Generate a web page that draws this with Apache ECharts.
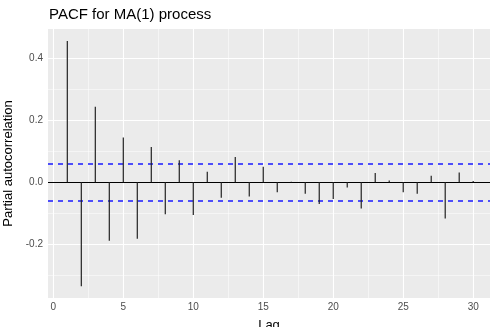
<!DOCTYPE html>
<html>
<head>
<meta charset="utf-8">
<script src="https://cdn.jsdelivr.net/npm/echarts@6/dist/echarts.min.js"></script>
<style>
  html, body { margin: 0; padding: 0; background: #fff; }
  #chart { width: 490px; height: 327px; }
</style>
</head>
<body>
<div id="chart"></div>
<script>
// PACF values
const lags = [1, 2, 3, 4, 5, 6, 7, 8, 9, 10, 11, 12, 13, 14, 15,
              16, 17, 18, 19, 20, 21, 22, 23, 24, 25, 26, 27, 28, 29, 30];
const pacf = [0.456, -0.335, 0.244, -0.188, 0.145, -0.182, 0.114, -0.103, 0.071, -0.105,
              0.034, -0.050, 0.082, -0.046, 0.050, -0.032, 0.002, -0.037, -0.070, -0.054,
              -0.017, -0.084, 0.030, 0.006, -0.032, -0.037, 0.021, -0.117, 0.032, 0.004];
const ciBound = 0.062;
const xTicks = [0, 5, 10, 15, 20, 25, 30];
const xMinor = [2.5, 7.5, 12.5, 17.5, 22.5, 27.5];
const yTicks = [-0.2, 0, 0.2, 0.4];
const yMinor = [-0.3, -0.1, 0.1, 0.3];

const chart = echarts.init(document.getElementById('chart'));

function gridLines(vals, key, width) {
  return vals.map(v => ({ [key]: v, lineStyle: { color: '#fff', width: width, type: 'solid' } }));
}

chart.setOption({
  animation: false,
  backgroundColor: '#fff',
  textStyle: { fontFamily: 'Liberation Sans, Arial, sans-serif' },
  title: {
    text: 'PACF for MA(1) process',
    left: 44, top: 2,
    textStyle: { fontSize: 15, fontWeight: 'normal', color: '#000' }
  },
  grid: {
    left: 48, right: 0, top: 29, bottom: 29,
    outerBoundsMode: 'none', containLabel: false,
    show: true, backgroundColor: '#ebebeb', borderWidth: 0
  },
  xAxis: {
    type: 'value', min: -0.38, max: 31.2,
    name: 'Lag', nameLocation: 'middle', nameGap: 21,
    nameTextStyle: { fontSize: 13, color: '#000' },
    axisLine: { show: false },
    axisTick: { show: true, length: 3, customValues: xTicks, lineStyle: { color: '#333' } },
    axisLabel: { customValues: xTicks, fontSize: 10, color: '#4d4d4d', margin: 4 },
    splitLine: { show: false }
  },
  yAxis: {
    type: 'value', min: -0.373, max: 0.4945,
    name: 'Partial autocorrelation', nameLocation: 'middle', nameGap: 31,
    nameTextStyle: { fontSize: 13, color: '#000' },
    axisLine: { show: false },
    axisTick: { show: true, length: 3, customValues: yTicks, lineStyle: { color: '#333' } },
    axisLabel: { customValues: yTicks, fontSize: 10, color: '#4d4d4d', margin: 5,
                 formatter: v => v.toFixed(1) },
    splitLine: { show: false }
  },
  series: [
    {
      // panel grid lines
      type: 'line', data: [], silent: true, z: 1,
      markLine: {
        silent: true, symbol: 'none', label: { show: false }, animation: false,
        data: [].concat(
          gridLines(xMinor, 'xAxis', 0.5),
          gridLines(yMinor, 'yAxis', 0.5),
          gridLines(xTicks, 'xAxis', 1.1),
          gridLines(yTicks, 'yAxis', 1.1)
        )
      }
    },
    {
      type: 'custom', z: 10,
      data: lags.map((l, i) => [l, pacf[i]]),
      silent: true,
      renderItem: function (params, api) {
        const p0 = api.coord([api.value(0), 0]);
        const p1 = api.coord([api.value(0), api.value(1)]);
        return {
          type: 'line',
          shape: { x1: p0[0], y1: p0[1], x2: p1[0], y2: p1[1] },
          style: { stroke: '#222', lineWidth: 1.2 }
        };
      }
    },
    {
      // zero line
      type: 'line', data: [], silent: true, z: 20,
      markLine: {
        silent: true, symbol: 'none', label: { show: false }, animation: false,
        lineStyle: { color: '#000', width: 1.2, type: 'solid' },
        data: [{ yAxis: 0 }]
      }
    },
    {
      // confidence bounds
      type: 'line', data: [], silent: true, z: 21,
      color: '#0000ff',
      markLine: {
        silent: true, symbol: 'none', label: { show: false }, animation: false,
        lineStyle: { color: '#1a1aff', width: 1.5, type: [5, 5] },
        data: [{ yAxis: ciBound }, { yAxis: -ciBound }]
      }
    }
  ]
});
</script>
</body>
</html>
